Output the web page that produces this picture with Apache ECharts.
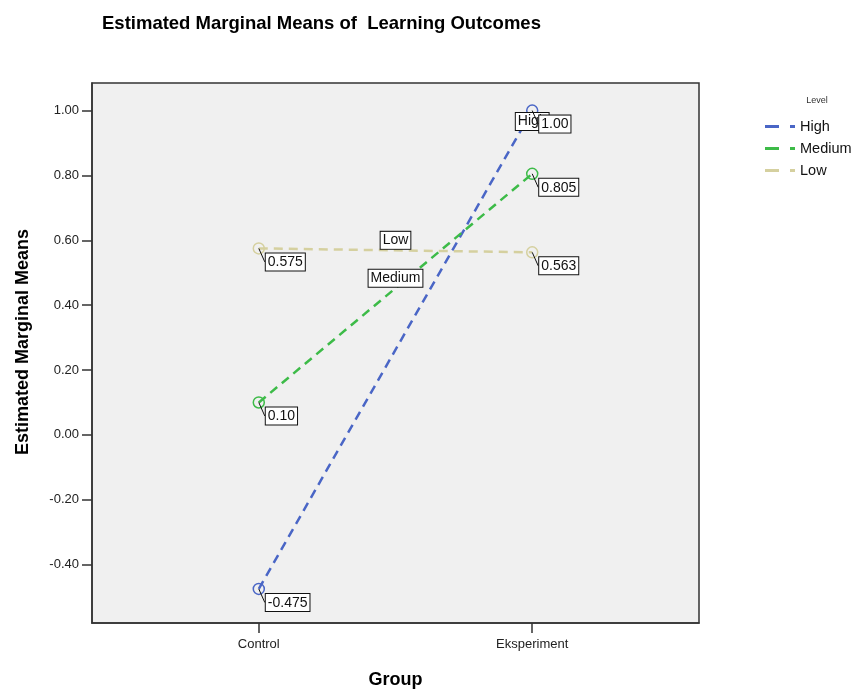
<!DOCTYPE html>
<html>
<head>
<meta charset="utf-8">
<script src="https://cdn.jsdelivr.net/npm/echarts@6/dist/echarts.min.js"></script>
<style>
  html, body { margin: 0; padding: 0; background: #fff; }
  #main { width: 858px; height: 695px; }
</style>
</head>
<body>
<div id="main"></div>
<script>
  // data
  const groups = ['Control', 'Eksperiment']
  const levels = ['High', 'Medium', 'Low']
  const highVals = [-0.475, 1.00]
  const mediumVals = [0.10, 0.805]
  const lowVals = [0.575, 0.563]
  const yTicks = [-0.4, -0.2, 0.0, 0.2, 0.4, 0.6, 0.8, 1.0]
  const COLORS = {High: '#4a66c6', Medium: '#3dbb48', Low: '#d5d09f'}
  const FONT = '"Liberation Sans", Arial, sans-serif'

  let fmtVal = v => {
    let s = v.toFixed(3)
    return s.endsWith('0') ? s.slice(0, -1) : s
  }

  let boxLabel = {
    fontFamily: FONT,
    fontSize: 14,
    color: '#111',
    backgroundColor: '#fff',
    borderColor: '#111',
    borderWidth: 1,
    padding: [2, 2, 1, 2]
  }

  let mid = vals => (vals[0] + vals[1]) / 2

  // dashed line with hollow circles, plus the boxed level name
  let makeLine = (name, vals, namePoint) => {
    return {
      name: name,
      type: 'line',
      data: vals.map((v, i) => [i, v]),
      symbol: 'circle',
      symbolSize: 11,
      color: COLORS[name],
      lineStyle: {color: COLORS[name], width: 2.5, type: [9, 6]},
      itemStyle: {color: 'transparent', borderColor: COLORS[name], borderWidth: 1.5},
      markPoint: {
        symbol: 'circle',
        symbolSize: 0,
        z: 5,
        itemStyle: {color: 'transparent'},
        label: Object.assign({
          show: true,
          formatter: name,
          position: 'inside',
          offset: namePoint.offset
        }, boxLabel),
        data: [{coord: namePoint.coord}]
      },
      z: 3
    }
  }

  // boxed value labels, kept on top of everything
  let makeValues = (name, vals) => {
    return {
      name: name + ' values',
      type: 'scatter',
      silent: true,
      data: vals.map((v, i) => [i, v]),
      symbolSize: 0,
      z: 10,
      itemStyle: {opacity: 1, color: '#111'},
      label: Object.assign({
        show: true,
        position: [7, 5],
        formatter: p => fmtVal(p.value[1])
      }, boxLabel),
      labelLine: {show: true, lineStyle: {color: '#111', width: 1, opacity: 1}}
    }
  }

  let chart = echarts.init(document.getElementById('main'))
  let option = {
    animation: false,
    title: [
      {
        text: 'Estimated Marginal Means of  Learning Outcomes',
        left: 97,
        top: 9,
        textStyle: {fontFamily: FONT, fontSize: 18.5, fontWeight: 'bold', color: '#000'}
      },
      {
        text: 'Level',
        left: 812,
        top: 91,
        textAlign: 'center',
        textStyle: {fontFamily: FONT, fontSize: 9, fontWeight: 'normal', color: '#333'}
      }
    ],
    legend: {
      orient: 'vertical',
      left: 760,
      top: 114,
      itemGap: 7,
      itemWidth: 30,
      itemHeight: 3,
      icon: 'path://M0,0h14v3h-14z M25,0h5v3h-5z',
      data: levels.map(l => ({name: l, itemStyle: {color: COLORS[l], borderWidth: 0}})),
      textStyle: {fontFamily: FONT, fontSize: 14.5, color: '#111'}
    },
    grid: {
      left: 92,
      right: 159,
      top: 83,
      bottom: 72,
      show: true,
      backgroundColor: '#f0f0f0',
      borderColor: '#333',
      borderWidth: 1.5
    },
    xAxis: {
      type: 'value',
      min: -0.61,
      max: 1.61,
      name: 'Group',
      nameLocation: 'middle',
      nameGap: 48,
      nameTextStyle: {fontFamily: FONT, fontSize: 18, fontWeight: 'bold', color: '#000'},
      axisLine: {show: true, onZero: false, lineStyle: {color: '#333', width: 1.5}},
      splitLine: {show: false},
      axisTick: {show: true, length: 10, customValues: [0, 1], lineStyle: {color: '#333', width: 1.5}},
      axisLabel: {
        customValues: [0, 1],
        margin: 15,
        formatter: v => groups[Math.round(v)],
        fontFamily: FONT,
        fontSize: 13,
        color: '#222'
      }
    },
    yAxis: {
      type: 'value',
      min: -0.58,
      max: 1.085,
      name: 'Estimated Marginal Means',
      nameLocation: 'middle',
      nameGap: 60,
      nameTextStyle: {fontFamily: FONT, fontSize: 18, fontWeight: 'bold', color: '#000', padding: [0, 0, 0, 22]},
      axisLine: {show: true, onZero: false, lineStyle: {color: '#333', width: 1.5}},
      splitLine: {show: false},
      axisTick: {show: true, length: 10, customValues: yTicks, lineStyle: {color: '#333', width: 1.5}},
      axisLabel: {
        customValues: yTicks,
        margin: 13,
        formatter: v => v.toFixed(2),
        fontFamily: FONT,
        fontSize: 13,
        color: '#222'
      }
    },
    series: [
      makeLine('High', highVals, {coord: [1, highVals[1]], offset: [0, 11]}),
      makeLine('Medium', mediumVals, {coord: [0.5, mid(mediumVals)], offset: [0, -10]}),
      makeLine('Low', lowVals, {coord: [0.5, mid(lowVals)], offset: [0, -10]}),
      makeValues('High', highVals),
      makeValues('Medium', mediumVals),
      makeValues('Low', lowVals)
    ]
  }
  chart.setOption(option)
</script>
</body>
</html>
